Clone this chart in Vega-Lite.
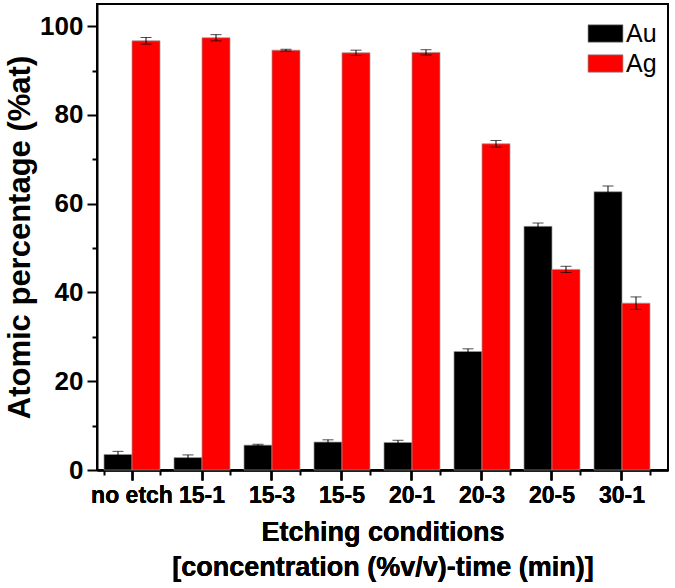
{
  "$schema": "https://vega.github.io/schema/vega-lite/v6.json",
  "width": 571,
  "height": 466,
  "autosize": "none",
  "padding": {"left": 97, "top": 4, "right": 7, "bottom": 118},
  "background": "white",
  "config": {"view": {"stroke": "black", "strokeWidth": 2}, "font": "Liberation Sans"},
  "data": {"values": [
    {"cond": "no etch", "element": "Au", "value": 3.5, "lo": 2.8, "hi": 4.2},
    {"cond": "no etch", "element": "Ag", "value": 96.7, "lo": 95.95, "hi": 97.45},
    {"cond": "15-1", "element": "Au", "value": 2.8, "lo": 2.2, "hi": 3.4},
    {"cond": "15-1", "element": "Ag", "value": 97.4, "lo": 96.7, "hi": 98.1},
    {"cond": "15-3", "element": "Au", "value": 5.6, "lo": 5.4, "hi": 5.8},
    {"cond": "15-3", "element": "Ag", "value": 94.6, "lo": 94.4, "hi": 94.8},
    {"cond": "15-5", "element": "Au", "value": 6.3, "lo": 5.8, "hi": 6.8},
    {"cond": "15-5", "element": "Ag", "value": 94.0, "lo": 93.4, "hi": 94.6},
    {"cond": "20-1", "element": "Au", "value": 6.2, "lo": 5.7, "hi": 6.7},
    {"cond": "20-1", "element": "Ag", "value": 94.1, "lo": 93.5, "hi": 94.7},
    {"cond": "20-3", "element": "Au", "value": 26.7, "lo": 26.1, "hi": 27.3},
    {"cond": "20-3", "element": "Ag", "value": 73.5, "lo": 72.75, "hi": 74.25},
    {"cond": "20-5", "element": "Au", "value": 54.9, "lo": 54.15, "hi": 55.65},
    {"cond": "20-5", "element": "Ag", "value": 45.2, "lo": 44.5, "hi": 45.9},
    {"cond": "30-1", "element": "Au", "value": 62.7, "lo": 61.4, "hi": 64.0},
    {"cond": "30-1", "element": "Ag", "value": 37.6, "lo": 36.2, "hi": 39.0}
  ]},
  "encoding": {
    "x": {
      "field": "cond", "type": "nominal",
      "sort": ["no etch", "15-1", "15-3", "15-5", "20-1", "20-3", "20-5", "30-1"],
      "scale": {"paddingInner": 0.2, "paddingOuter": 0.1786, "align": 0.28},
      "axis": {
        "orient": "bottom",
        "labelAngle": 0, "labelFont": "Liberation Sans", "labelFontWeight": "bold", "labelFontSize": 23,
        "labelColor": "black", "labelPadding": 4, "tickSize": 10, "tickWidth": 2, "tickColor": "black",
        "domainColor": "black", "domainWidth": 2,
        "title": ["Etching conditions", "[concentration (%v/v)-time (min)]"],
        "titleFont": "Liberation Sans", "titleFontWeight": "bold", "titleFontSize": 27, "titleColor": "black",
        "titleLineHeight": 35, "titlePadding": 12
      }
    },
    "xOffset": {"field": "element", "type": "nominal", "sort": ["Au", "Ag"], "scale": {"paddingInner": 0, "paddingOuter": 0}}
  },
  "layer": [
    {
      "mark": {"type": "bar", "stroke": "#9a9a9a", "strokeWidth": 0.7},
      "encoding": {
        "y": {
          "field": "value", "type": "quantitative",
          "scale": {"domain": [0, 105], "nice": false},
          "axis": {
            "values": [0, 10, 20, 30, 40, 50, 60, 70, 80, 90, 100],
            "labelExpr": "datum.value % 20 === 0 ? datum.label : ''",
            "tickSize": {"condition": {"test": "datum.value % 20 === 0", "value": 10}, "value": 5},
            "tickWidth": 2, "tickColor": "black", "domainColor": "black", "domainWidth": 2,
            "grid": false,
            "labelFont": "Liberation Sans", "labelFontWeight": "bold", "labelFontSize": 26, "labelColor": "black",
            "labelPadding": 4,
            "title": "Atomic percentage (%at)",
            "titleFont": "Liberation Sans", "titleFontWeight": "bold", "titleFontSize": 31, "titleColor": "black",
            "titlePadding": 3
          }
        },
        "color": {
          "field": "element", "type": "nominal",
          "scale": {"domain": ["Au", "Ag"], "range": ["#000000", "#ff0000"]},
          "legend": {
            "orient": "none", "legendX": 496, "legendY": 17, "title": null,
            "symbolType": "M-2,-1H2V1H-2Z", "symbolSize": 306,
            "symbolStrokeColor": "#9a9a9a", "symbolStrokeWidth": 0.7, "symbolOpacity": 1,
            "labelFont": "Liberation Sans", "labelFontSize": 25, "labelColor": "black",
            "labelOffset": 8, "rowPadding": 4, "padding": 0
          }
        }
      }
    },
    {
      "mark": {"type": "rule", "color": "black", "strokeWidth": 1},
      "encoding": {
        "x": {
          "field": "cond", "type": "nominal",
          "sort": ["no etch", "15-1", "15-3", "15-5", "20-1", "20-3", "20-5", "30-1"],
          "axis": {
            "orient": "bottom", "tickBand": "extent", "labels": false, "title": null, "domain": false,
            "tickSize": 5, "tickWidth": 2, "tickColor": "black", "offset": 0
          }
        },
        "y": {"field": "lo", "type": "quantitative"}, "y2": {"field": "hi"}
      }
    },
    {
      "mark": {"type": "tick", "color": "black", "thickness": 1, "size": 11, "orient": "horizontal"},
      "encoding": {"y": {"field": "lo", "type": "quantitative"}}
    },
    {
      "mark": {"type": "tick", "color": "black", "thickness": 1, "size": 11, "orient": "horizontal"},
      "encoding": {"y": {"field": "hi", "type": "quantitative"}}
    }
  ],
  "resolve": {"axis": {"x": "independent"}}
}
